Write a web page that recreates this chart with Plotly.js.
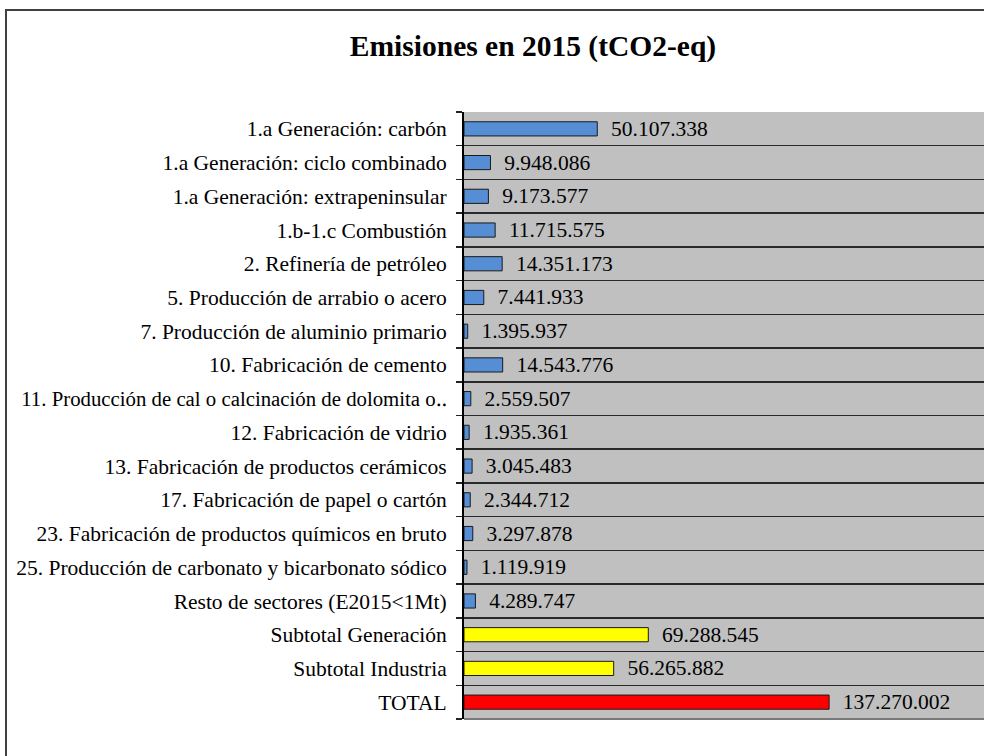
<!DOCTYPE html>
<html>
<head>
<meta charset="utf-8">
<script src="https://cdn.plot.ly/plotly-3.0.1.min.js"></script>
<style>html,body{margin:0;padding:0;background:#fff;}#chart{width:984px;height:756px;}</style>
</head>
<body>
<div id="chart"></div>
<script>
const categories = [
  "1.a Generación: carbón",
  "1.a Generación: ciclo combinado",
  "1.a Generación: extrapeninsular",
  "1.b-1.c Combustión",
  "2. Refinería de petróleo",
  "5. Producción de arrabio o acero",
  "7. Producción de aluminio primario",
  "10. Fabricación de cemento",
  "11. Producción de cal o calcinación de dolomita o‥",
  "12. Fabricación de vidrio",
  "13. Fabricación de productos cerámicos",
  "17. Fabricación de papel o cartón",
  "23. Fabricación de productos químicos en bruto",
  "25. Producción de carbonato y bicarbonato sódico",
  "Resto de sectores (E2015<1Mt)",
  "Subtotal Generación",
  "Subtotal Industria",
  "TOTAL"
];
const emissions = [
  50107338, 9948086, 9173577, 11715575, 14351173, 7441933, 1395937,
  14543776, 2559507, 1935361, 3045483, 2344712, 3297878, 1119919,
  4289747, 69288545, 56265882, 137270002
];
const groups = [
  "sector","sector","sector","sector","sector","sector","sector",
  "sector","sector","sector","sector","sector","sector","sector",
  "sector","subtotal","subtotal","total"
];
const groupColors = {sector: "#558ED5", subtotal: "#FFFF00", total: "#FF0000"};
const titleText = "Emisiones en 2015 (tCO2-eq)";

const serif = '"Liberation Serif", "Times New Roman", Times, serif';

const trace = {
  type: "bar",
  orientation: "h",
  y: categories,
  x: emissions,
  width: 0.42,
  marker: {
    color: groups.map(g => groupColors[g]),
    line: {color: "#1a1a1a", width: 1}
  },
  texttemplate: "  %{x:,.0f}",
  textposition: "outside",
  constraintext: "none",
  cliponaxis: false,
  textfont: {family: serif, size: 21.5, color: "#000"},
  hoverinfo: "skip"
};

const L = 464, T = 112, B = 37, W = 984, H = 756;
const pw = W - L, ph = H - T - B;
const px = x => (x - L) / pw;
const py = y => 1 - (y - T) / ph;

// the truncated label is slightly narrower in the reference
const tickText = categories.map(c =>
  c.endsWith("‥") ? '<span style="font-size:20.8px">' + c + '</span>' : c);

const layout = {
  width: W, height: H,
  margin: {l: L, r: 0, t: T, b: B, pad: 0},
  paper_bgcolor: "#ffffff",
  plot_bgcolor: "#C0C0C0",
  separators: ",.",
  showlegend: false,
  font: {family: serif},
  title: {
    text: "<b>" + titleText + "</b>",
    font: {family: serif, size: 29.5, color: "#000"},
    x: px(533), xref: "paper", xanchor: "center",
    y: 1 - 46 / H, yref: "container", yanchor: "middle"
  },
  xaxis: {
    range: [0, 195500000],
    showticklabels: false,
    showgrid: false,
    zeroline: false,
    ticks: "",
    fixedrange: true
  },
  yaxis: {
    type: "category",
    autorange: "reversed",
    tickson: "boundaries",
    tickmode: "array",
    tickvals: categories,
    ticktext: tickText,
    ticks: "outside",
    ticklen: 6,
    tickwidth: 1.5,
    tickcolor: "#222",
    showgrid: true,
    gridcolor: "#2a2a2a",
    gridwidth: 1.5,
    showline: true,
    linecolor: "#000",
    linewidth: 2,
    ticklabelstandoff: 11,
    tickfont: {family: serif, size: 21.5, color: "#000"},
    fixedrange: true
  },
  shapes: [
    {type: "rect", xref: "paper", yref: "paper",
     x0: px(6), x1: px(1000), y0: py(770), y1: py(10),
     line: {color: "#404040", width: 2}, fillcolor: "rgba(0,0,0,0)", layer: "above"},
    {type: "line", xref: "paper", yref: "paper",
     x0: 0, x1: 1.02, y0: 0, y1: 0,
     line: {color: "#7a7a7a", width: 2}, layer: "above"}
  ]
};

Plotly.newPlot("chart", [trace], layout, {displayModeBar: false, staticPlot: true});
</script>
</body>
</html>
